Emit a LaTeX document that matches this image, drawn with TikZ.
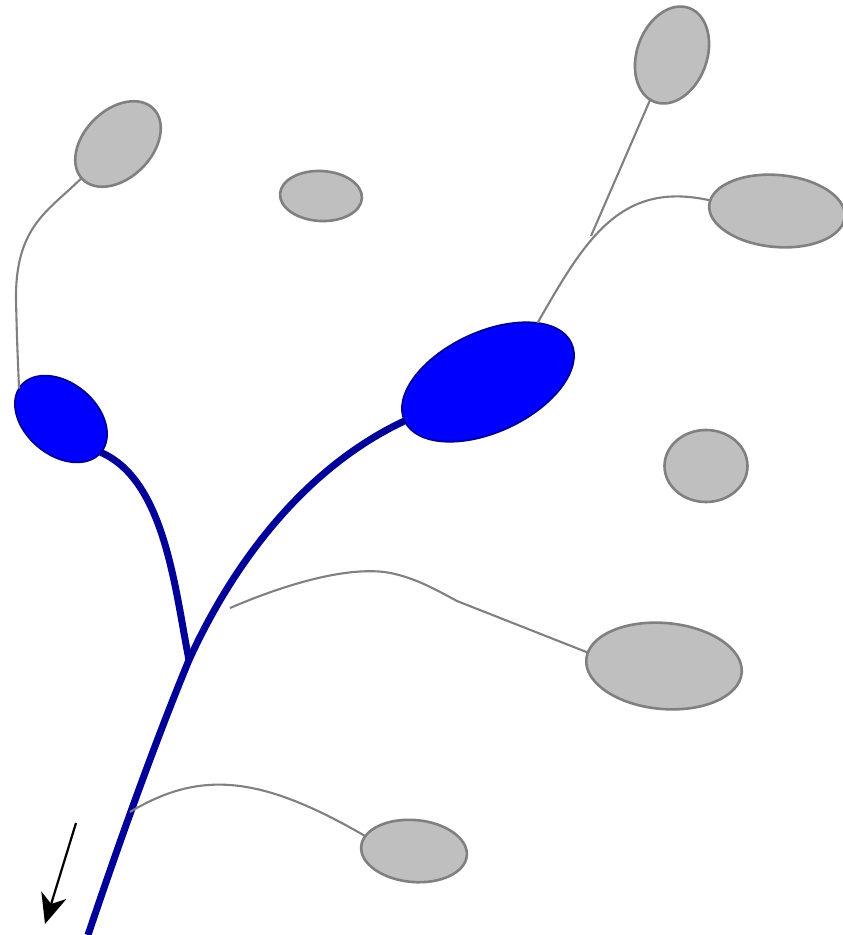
\documentclass[tikz,border=0pt]{standalone}
\usetikzlibrary{shapes.geometric,arrows.meta}
\definecolor{gfill}{HTML}{BFBFBF}
\definecolor{gline}{HTML}{808080}
\definecolor{bfill}{HTML}{0000FF}
\definecolor{bline}{HTML}{000099}
\tikzset{
  gell/.style={ellipse,draw=gline,fill=gfill,line width=2.6pt,inner sep=0pt,outer sep=0pt},
  bell/.style={ellipse,draw=bline,fill=bfill,line width=1.8pt,inner sep=0pt,outer sep=0pt},
  trunk/.style={draw=bline,line width=7pt},
  thin/.style={draw=gline,line width=2.1pt},
}
\begin{document}
\begin{tikzpicture}[x=1pt,y=-1pt]
\useasboundingbox (0,0) rectangle (843,935);
% gray ellipses
\node[gell,minimum width=100pt,minimum height=68pt,rotate=45] (g1) at (118,144) {};
\node[gell,minimum width=82pt,minimum height=50pt,rotate=-3] (g2) at (321,196) {};
\node[gell,minimum width=100pt,minimum height=70pt,rotate=70] (g3) at (672,55) {};
\node[gell,minimum width=136pt,minimum height=72pt,rotate=-5] (g4) at (777,211) {};
\node[gell,minimum width=83pt,minimum height=72pt] (g5) at (706,466) {};
\node[gell,minimum width=156pt,minimum height=86pt,rotate=-5] (g8) at (664,666) {};
\node[gell,minimum width=106pt,minimum height=62pt,rotate=-5] (g9) at (414,851) {};
% blue ellipses
\node[bell,minimum width=184pt,minimum height=100pt,rotate=25] (bb) at (488,382) {};
\node[bell,minimum width=104pt,minimum height=72pt,rotate=-40] (bl) at (61,419) {};
% coordinates
\coordinate (bot) at (88,935);
\coordinate (J) at (189,660);
\coordinate (s1) at (230,608);
\coordinate (s2) at (130,812);
\coordinate (k1) at (591,236);
\coordinate (k2) at (457,601);
\coordinate (ta) at (76,823);
\coordinate (tb) at (45,924);
% trunk and branch
\draw[trunk] (bot) .. controls (125,825) and (160,730) .. (J)
  .. controls (230,570) and (300,470) .. (bb.west);
\draw[trunk] (J) .. controls (175,590) and (165,480) .. (bl.east);
% gray connectors
\draw[thin] (g1.178) .. controls (50,210) and (15,225) .. (16,300)
  .. controls (17,340) .. (bl.184);
\draw[thin] (bb.25) .. controls (585,240) and (620,180) .. (g4.176);
\draw[thin] (g3.174) -- (k1);
\draw[thin] (s1) .. controls (300,578) and (360,565) .. (395,574)
  .. controls (420,580) and (440,592) .. (k2) -- (g8.175);
\draw[thin] (s2) .. controls (200,770) and (260,775) .. (g9.168);
% arrow
\draw[line width=2.2pt,-{Stealth[length=30pt,width=26pt,inset=9pt]}] (ta) -- (tb);
\end{tikzpicture}
\end{document}
